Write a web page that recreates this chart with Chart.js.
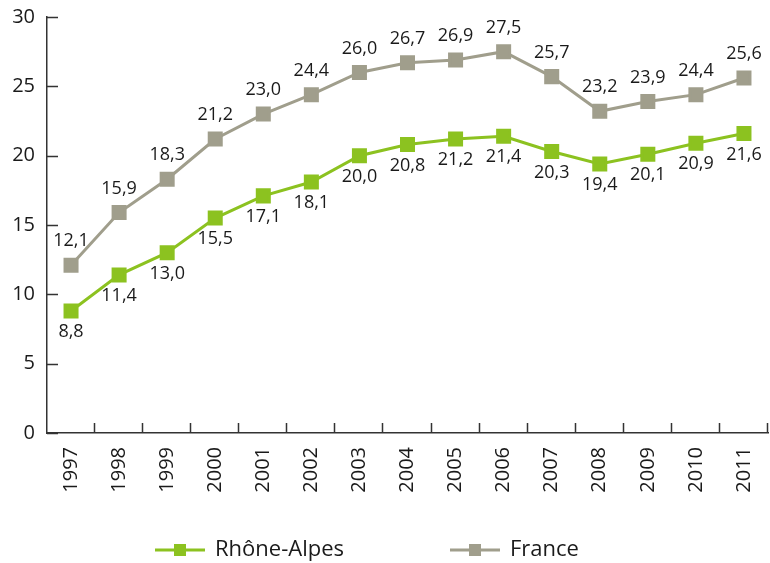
<!DOCTYPE html>
<html>
<head>
<meta charset="utf-8">
<script src="https://cdn.jsdelivr.net/npm/chart.js@4/dist/chart.umd.min.js"></script>
<style>
  html, body { margin: 0; padding: 0; background: #fff; }
  #wrap { width: 770px; height: 563px; }
</style>
</head>
<body>
<div id="wrap"><canvas id="myChart" width="770" height="563"></canvas></div>
<script>
const annees = ["1997", "1998", "1999", "2000", "2001", "2002", "2003", "2004", "2005", "2006", "2007", "2008", "2009", "2010", "2011"];
const rhoneAlpes = [8.8, 11.4, 13.0, 15.5, 17.1, 18.1, 20.0, 20.8, 21.2, 21.4, 20.3, 19.4, 20.1, 20.9, 21.6];
const france = [12.1, 15.9, 18.3, 21.2, 23.0, 24.4, 26.0, 26.7, 26.9, 27.5, 25.7, 23.2, 23.9, 24.4, 25.6];
const yTicks = [0, 5, 10, 15, 20, 25, 30];

const vert = "#8cc220";
const gris = "#a09e8c";
const police = "'Open Sans', sans-serif";

// cadre du graphique : bord droit fixe
const cadre = {
    id: "cadre",
    afterLayout(chart) {
        const x = chart.scales.x;
        const droite = 768;
        chart.chartArea.right = droite;
        chart.chartArea.width = droite - chart.chartArea.left;
        x.right = droite;
        x.width = droite - x.left;
        x.configure();
    }
};

// etiquettes de valeurs, ticks interieurs et legende
const decor = {
    id: "decor",
    afterDatasetsDraw(chart) {
        const ctx = chart.ctx;
        const y = chart.scales.y;
        const area = chart.chartArea;

        ctx.save();
        ctx.strokeStyle = "#333";
        ctx.lineWidth = 1.5;
        ctx.beginPath();
        yTicks.forEach(v => {
            const py = Math.round(y.getPixelForValue(v)) + 0.5;
            ctx.moveTo(area.left, py);
            ctx.lineTo(area.left + 11, py);
        });
        const pas = (area.right - area.left) / annees.length;
        for (let i = 1; i <= annees.length; i++) {
            const px = Math.round(area.left + pas * i) - 0.5;
            ctx.moveTo(px, area.bottom);
            ctx.lineTo(px, area.bottom - 10);
        }
        ctx.stroke();

        ctx.fillStyle = "#1a1a1a";
        ctx.font = "18px " + police;
        ctx.textAlign = "center";
        ctx.textBaseline = "middle";
        chart.data.datasets.forEach((ds, i) => {
            const meta = chart.getDatasetMeta(i);
            meta.data.forEach((pt, j) => {
                const txt = ds.data[j].toFixed(1).replace(".", ",");
                if (ds.label === "France") {
                    ctx.fillText(txt, pt.x, pt.y - 24);
                } else {
                    ctx.fillText(txt, pt.x, pt.y + 21);
                }
            });
        });

        // legende
        const items = [
            { label: chart.data.datasets[0].label, color: vert, x0: 155 },
            { label: chart.data.datasets[1].label, color: gris, x0: 450 }
        ];
        const ly = 550;
        items.forEach(it => {
            ctx.strokeStyle = it.color;
            ctx.lineWidth = 3;
            ctx.beginPath();
            ctx.moveTo(it.x0, ly);
            ctx.lineTo(it.x0 + 50, ly);
            ctx.stroke();
            ctx.fillStyle = it.color;
            ctx.fillRect(it.x0 + 19, ly - 6, 12, 12);
            ctx.fillStyle = "#1a1a1a";
            ctx.font = "22px " + police;
            ctx.textAlign = "left";
            ctx.textBaseline = "middle";
            ctx.fillText(it.label, it.x0 + 60, ly);
        });
        ctx.restore();
    }
};

const config = {
    type: "line",
    data: {
        labels: annees,
        datasets: [
            {
                label: "Rhône-Alpes",
                data: rhoneAlpes,
                borderColor: vert,
                backgroundColor: vert,
                borderWidth: 3,
                pointStyle: "rect",
                pointRadius: 8.5,
                pointHoverRadius: 8.5,
                tension: 0
            },
            {
                label: "France",
                data: france,
                borderColor: gris,
                backgroundColor: gris,
                borderWidth: 3,
                pointStyle: "rect",
                pointRadius: 8.5,
                pointHoverRadius: 8.5,
                tension: 0
            }
        ]
    },
    options: {
        responsive: false,
        animation: false,
        layout: { padding: { top: 17, right: 2, left: 0, bottom: 0 } },
        plugins: {
            legend: { display: false },
            tooltip: { enabled: false }
        },
        scales: {
            x: {
                offset: true,
                grid: { display: false, drawTicks: false },
                border: { display: true, color: "#333", width: 1.5 },
                ticks: {
                    color: "#1a1a1a",
                    font: { family: police, size: 20 },
                    minRotation: 90,
                    maxRotation: 90,
                    padding: 14,
                    autoSkip: false
                },
                afterFit(scale) {
                    scale.height = 130;
                    scale.paddingLeft = 0;
                    scale.paddingRight = 0;
                }
            },
            y: {
                min: 0,
                max: 30,
                grid: { display: false, drawTicks: false },
                border: { display: true, color: "#333", width: 1.5 },
                ticks: {
                    stepSize: 5,
                    color: "#1a1a1a",
                    font: { family: police, size: 20 },
                    padding: 12
                },
                afterFit(scale) {
                    scale.width = 47;
                    scale.paddingTop = 0;
                    scale.paddingBottom = 0;
                }
            }
        }
    },
    plugins: [cadre, decor]
};

new Chart(document.getElementById("myChart"), config);
</script>
</body>
</html>
